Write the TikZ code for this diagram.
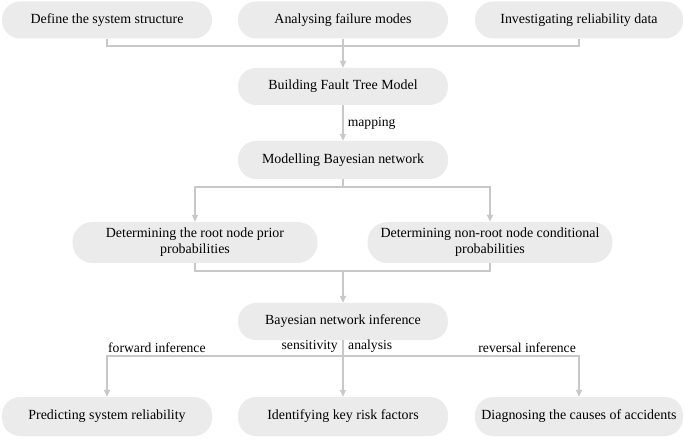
\documentclass[tikz,border=0pt]{standalone}
\usepackage{fontspec}
\setmainfont{Liberation Serif}
\usetikzlibrary{arrows.meta}
\definecolor{boxfill}{HTML}{EBEBEB}
\definecolor{linegray}{HTML}{C8C8C8}
\tikzset{
  box/.style={fill=boxfill, draw=none, rounded corners=18bp, minimum width=210bp, minimum height=37bp, inner sep=2bp, align=center, font=\fontsize{14}{16}\selectfont},
  conn/.style={draw=linegray, line width=1.5bp},
  arr/.style={conn, -{Triangle[length=7bp,width=6bp]}},
  lbl/.style={font=\fontsize{13.7}{16}\selectfont, inner sep=1bp},
}
\begin{document}
\begin{tikzpicture}[x=1bp,y=-1bp]
\useasboundingbox (0,0) rectangle (685,439);
\node[box] (d1) at (107,20) {Define the system structure};
\node[box] (d2) at (343,20) {Analysing failure modes};
\node[box, minimum width=208bp] (d3) at (579,20) {Investigating reliability data};
\node[box] (bft) at (343,86.5) {Building Fault Tree Model};
\node[box, minimum height=38bp] (mbn) at (343,160) {Modelling Bayesian network};
\node[box, minimum width=245bp, minimum height=41bp, rounded corners=20bp] (rp) at (195,242.5) {Determining the root node prior\\probabilities};
\node[box, minimum width=245bp, minimum height=41bp, rounded corners=20bp] (nc) at (490,242.5) {Determining non-root node conditional\\probabilities};
\node[box] (bni) at (343,321.5) {Bayesian network inference};
\node[box, minimum height=39bp] (p1) at (107,416.5) {Predicting system reliability};
\node[box, minimum height=39bp] (p2) at (343,416.5) {Identifying key risk factors};
\node[box, minimum width=208bp, minimum height=39bp] (p3) at (579,416.5) {Diagnosing the causes of accidents};
\coordinate (j1) at (343,46);
\coordinate (j2) at (343,187);
\coordinate (j3) at (343,271);
\coordinate (j4) at (343,356);
% top merge
\draw[conn] (d1.south) |- (j1) -| (d3.south);
\draw[arr] (d2.south) -- (bft.north);
% mapping
\draw[arr] (bft.south) -- node[lbl, right=3bp] {mapping} (mbn.north);
% split
\draw[conn] (mbn.south) -- (j2);
\draw[arr] (j2) -| (rp.north);
\draw[arr] (j2) -| (nc.north);
% merge
\draw[conn] (rp.south) |- (j3) -| (nc.south);
\draw[arr] (j3) -- (bni.north);
% bottom split
\draw[conn] (bni.south) -- (j4);
\draw[arr] (j4) -| (p1.north);
\draw[arr] (j4) -- (p2.north);
\draw[arr] (j4) -| (p3.north);
\node[lbl, anchor=south west] (l1) at (107,354) {forward inference};
\node[lbl, anchor=south east] (l2a) at (339,354) {sensitivity};
\node[lbl, anchor=south west] (l2b) at (347,354) {analysis};
\node[lbl, anchor=south east] (l3) at (577,354) {reversal inference};
\end{tikzpicture}
\end{document}
